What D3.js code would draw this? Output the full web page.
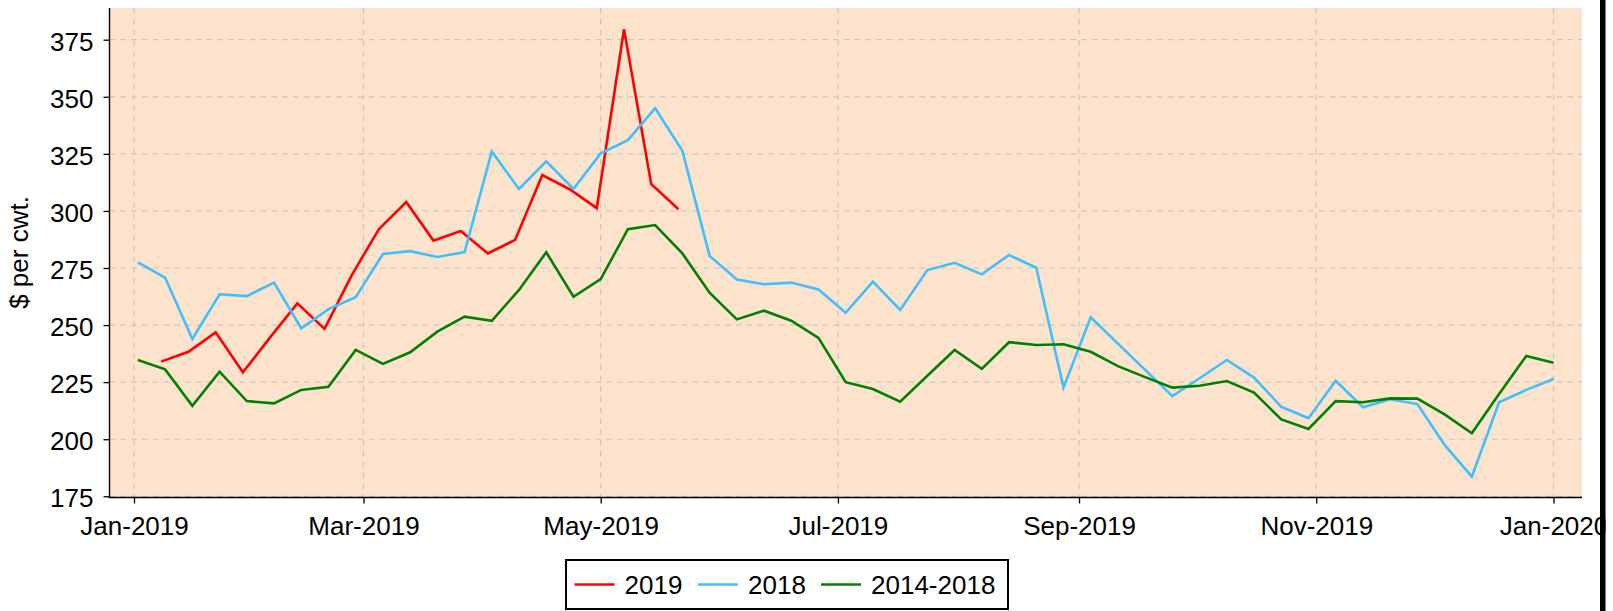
<!DOCTYPE html>
<html>
<head>
<meta charset="utf-8">
<script src="https://cdn.jsdelivr.net/npm/d3@7"></script>
<style>
  body { margin: 0; background: #fff; }
  text { font-family: "Liberation Sans", Arial, sans-serif; }
</style>
</head>
<body>
<div id="container"></div>
<script>
let width = 1613;
let height = 611;

// weekly dates (2019)
let weeks = ["01-02", "01-09", "01-16", "01-23", "01-30", "02-06", "02-13", "02-20", "02-27",
    "03-06", "03-13", "03-20", "03-27", "04-03", "04-10", "04-17", "04-24", "05-01", "05-08",
    "05-15", "05-22", "05-29", "06-05", "06-12", "06-19", "06-26", "07-03", "07-10", "07-17",
    "07-24", "07-31", "08-07", "08-14", "08-21", "08-28", "09-04", "09-11", "09-18", "09-25",
    "10-02", "10-09", "10-16", "10-23", "10-30", "11-06", "11-13", "11-20", "11-27", "12-04",
    "12-11", "12-18", "12-25", "2020-01-01"];
let weeks2019 = ["01-08", "01-15", "01-22", "01-29", "02-05", "02-12", "02-19", "02-26",
    "03-05", "03-12", "03-19", "03-26", "04-02", "04-09", "04-16", "04-23", "04-30",
    "05-07", "05-14", "05-21"];

let values2019 = [234.0, 238.3, 246.8, 229.3, 244.6, 259.5, 248.3, 271.9, 292.1, 303.9,
    287.0, 291.2, 281.4, 287.3, 315.7, 309.5, 301.2, 379.6, 311.7, 300.7];
let values2018 = [277.5, 270.8, 243.9, 263.5, 262.7, 268.6, 248.6, 257.0, 262.2, 281.1,
    282.4, 279.8, 282.0, 326.0, 309.6, 321.7, 309.6, 325.2, 331.0, 345.0,
    326.3, 280.3, 270.0, 267.9, 268.6, 265.6, 255.4, 269.0, 256.6, 274.1,
    277.3, 272.2, 280.7, 275.1, 222.6, 253.4, 241.9, 230.4, 218.9, 226.7,
    234.7, 227.0, 214.2, 209.2, 225.6, 214.0, 217.5, 215.4, 197.5, 183.6,
    216.2, 221.6, 226.4];
let valuesAvg = [234.7, 230.6, 214.6, 229.6, 216.7, 215.7, 221.6, 223.0, 239.1, 233.0,
    238.1, 247.1, 253.7, 251.9, 265.4, 281.9, 262.4, 270.1, 292.0, 293.8,
    281.4, 264.2, 252.5, 256.3, 251.9, 244.4, 225.0, 222.0, 216.4, 227.8,
    239.1, 230.8, 242.5, 241.3, 241.6, 238.3, 232.0, 227.2, 222.6, 223.4,
    225.5, 220.4, 208.7, 204.5, 216.7, 216.2, 217.9, 217.8, 210.9, 202.6,
    219.8, 236.5, 233.5];

let yTicks = [175, 200, 225, 250, 275, 300, 325, 350, 375];
let seriesNames = ["2019", "2018", "2014-2018"];
let seriesColors = ["#ff0000", "#3fbfff", "#008000"];

let toDate = (s) => s.length > 5 ? new Date(s + "T00:00:00") : new Date("2019-" + s + "T00:00:00");

let series = [
    { name: seriesNames[0], color: seriesColors[0], pts: weeks2019.map((d, i) => [toDate(d), values2019[i]]) },
    { name: seriesNames[1], color: seriesColors[1], pts: weeks.map((d, i) => [toDate(d), values2018[i]]) },
    { name: seriesNames[2], color: seriesColors[2], pts: weeks.map((d, i) => [toDate(d), valuesAvg[i]]) }
];

let plot = { left: 109.5, right: 1582, top: 8, bottom: 497.5 };

let x = d3.scaleTime()
    .domain([new Date("2019-01-01T00:00:00"), new Date("2020-01-01T00:00:00")])
    .range([134, 1553.5]);
let y = d3.scaleLinear()
    .domain([175, 375])
    .range([496.3, 39.7]);

let svg = d3.select("#container")
    .append("svg")
    .attr("width", width)
    .attr("height", height);

svg.append("rect")
    .attr("x", plot.left)
    .attr("y", plot.top)
    .attr("width", plot.right - plot.left)
    .attr("height", plot.bottom - plot.top)
    .attr("fill", "#fde3cc");

let xTicks = x.ticks(d3.timeMonth.every(2));

// grid
svg.append("g").selectAll("line")
    .data(yTicks)
    .enter()
    .append("line")
    .attr("x1", plot.left)
    .attr("x2", plot.right)
    .attr("y1", d => y(d))
    .attr("y2", d => y(d))
    .attr("stroke", "#c6c6c6")
    .attr("stroke-width", 1.2)
    .attr("stroke-dasharray", "5.5,5.3");

svg.append("g").selectAll("line")
    .data(xTicks)
    .enter()
    .append("line")
    .attr("x1", d => x(d))
    .attr("x2", d => x(d))
    .attr("y1", plot.top)
    .attr("y2", plot.bottom)
    .attr("stroke", "#c6c6c6")
    .attr("stroke-width", 1.2)
    .attr("stroke-dasharray", "5.5,5.3");

// lines
let line = d3.line()
    .x(d => x(d[0]))
    .y(d => y(d[1]));

svg.append("g").selectAll("path")
    .data(series)
    .enter()
    .append("path")
    .attr("d", d => line(d.pts))
    .attr("fill", "none")
    .attr("stroke", d => d.color)
    .attr("stroke-width", 2.6)
    .attr("stroke-linejoin", "miter");

// axes
let yAxis = svg.append("g")
    .attr("transform", `translate(${plot.left},0)`)
    .call(d3.axisLeft(y).tickValues(yTicks).tickSize(6).tickPadding(10));
yAxis.select(".domain").remove();
yAxis.selectAll("text")
    .attr("font-size", 26)
    .attr("font-family", "Liberation Sans, Arial, sans-serif")
    .attr("fill", "#000")
    .attr("dy", "0.4em");
yAxis.selectAll("line").attr("stroke-width", 1.3);

let xAxis = svg.append("g")
    .attr("transform", `translate(0,${plot.bottom})`)
    .call(d3.axisBottom(x).tickValues(xTicks).tickFormat(d3.timeFormat("%b-%Y")).tickSize(6));
xAxis.select(".domain").remove();
xAxis.selectAll("text")
    .attr("font-size", 26)
    .attr("font-family", "Liberation Sans, Arial, sans-serif")
    .attr("fill", "#000")
    .attr("y", 37.5)
    .attr("dy", null);
xAxis.selectAll("line").attr("stroke-width", 1.3);

svg.append("line")
    .attr("x1", plot.left).attr("x2", plot.left)
    .attr("y1", plot.top).attr("y2", plot.bottom + 0.7)
    .attr("stroke", "#000").attr("stroke-width", 1.4);
svg.append("line")
    .attr("x1", plot.left).attr("x2", plot.right)
    .attr("y1", plot.bottom).attr("y2", plot.bottom)
    .attr("stroke", "#000").attr("stroke-width", 1.4);

svg.append("text")
    .attr("transform", "rotate(-90)")
    .attr("x", -252.5)
    .attr("y", 28)
    .attr("text-anchor", "middle")
    .attr("font-size", 26)
    .text("$ per cwt.");

// legend
let legend = svg.append("g");
legend.append("rect")
    .attr("x", 566)
    .attr("y", 560)
    .attr("width", 442)
    .attr("height", 49)
    .attr("fill", "#fff")
    .attr("stroke", "#000")
    .attr("stroke-width", 2);

let legendX = [574.5, 698, 821];
let items = legend.selectAll(".item")
    .data(series)
    .enter()
    .append("g")
    .attr("class", "item")
    .attr("transform", (d, i) => `translate(${legendX[i]},584.5)`);
items.append("line")
    .attr("x1", 0)
    .attr("x2", 40)
    .attr("stroke", d => d.color)
    .attr("stroke-width", 2.6);
items.append("text")
    .attr("x", 50)
    .attr("y", 9.3)
    .attr("font-size", 26)
    .text(d => d.name);

// cropped right edge
svg.append("rect")
    .attr("x", 1605.5).attr("y", 0)
    .attr("width", width - 1605.5).attr("height", height)
    .attr("fill", "#fff");
svg.append("rect")
    .attr("x", 1600).attr("y", 0)
    .attr("width", 5.5).attr("height", height)
    .attr("fill", "#000");
</script>
</body>
</html>
